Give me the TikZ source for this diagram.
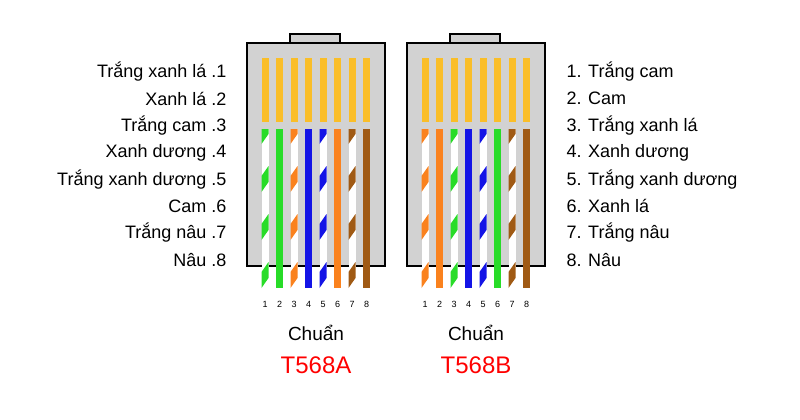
\documentclass[tikz,border=0pt]{standalone}
\usepackage{fontspec}
\setmainfont{Liberation Sans}
\begin{document}
\begin{tikzpicture}[x=1pt,y=-1pt,
  lab/.style={font=\fontsize{18}{19}\selectfont},
  num/.style={font=\fontsize{9}{10}\selectfont\rmfamily},
  box/.style={draw=black,line width=1.3pt,fill=gray!35}]
\definecolor{wg}{RGB}{40,220,40}
\definecolor{wo}{RGB}{250,130,30}
\definecolor{wb}{RGB}{20,20,230}
\definecolor{wn}{RGB}{160,90,20}
\definecolor{pg}{RGB}{250,190,40}
\useasboundingbox (0,0) rectangle (800,420);
\fill[white] (0,0) rectangle (800,420);
\newcommand\mywire[3]{%
  \ifnum#3=1
    \fill[white] (#1-3.5,129) rectangle (#1+3.5,288);
    \begin{scope}
      \clip (#1-3.5,129) rectangle (#1+3.5,288);
      \foreach \yy in {118,166,214,262}{
        \fill[#2] (#1-3.5,\yy+10) -- (#1+3.5,\yy) -- (#1+3.5,\yy+16) -- (#1-3.5,\yy+26) -- cycle;}
    \end{scope}
  \else
    \fill[#2] (#1-3.5,129) rectangle (#1+3.5,288);
  \fi}
\newcommand\myconn[2]{%
  \begin{scope}[xshift=#1]
    \draw[box] (290,43) -- (290,34) -- (340,34) -- (340,43);
    \fill[gray!35] (291,35) rectangle (339,44);
    \draw[box] (247,43) rectangle (385,266);
    \foreach \i in {0,...,7}{
      \fill[pg] ({265+\i*14.5-3.5},58) rectangle ({265+\i*14.5+3.5},122);
      \pgfmathtruncatemacro\n{\i+1}
      \node[num] (n\n#2) at ({265+\i*14.5},304) {\n};}
  \end{scope}}
\myconn{0}{a}
\myconn{160}{b}
\mywire{265}{wg}{1}\mywire{279.5}{wg}{0}\mywire{294}{wo}{1}\mywire{308.5}{wb}{0}
\mywire{323}{wb}{1}\mywire{337.5}{wo}{0}\mywire{352}{wn}{1}\mywire{366.5}{wn}{0}
\mywire{425}{wo}{1}\mywire{439.5}{wo}{0}\mywire{454}{wg}{1}\mywire{468.5}{wb}{0}
\mywire{483}{wb}{1}\mywire{497.5}{wg}{0}\mywire{512}{wn}{1}\mywire{526.5}{wn}{0}
\foreach \t [count=\i] in {Trắng xanh lá .1,Xanh lá .2,Trắng cam .3,Xanh dương .4,Trắng xanh dương .5,Cam .6,Trắng nâu .7,Nâu .8}
  \node[lab,anchor=east] (l\i) at (230,{72+(\i-1)*26.8}) {\t};
\foreach \t [count=\i] in {1. Trắng cam,2. Cam,3. Trắng xanh lá,4. Xanh dương,5. Trắng xanh dương,6. Xanh lá,7. Trắng nâu,8. Nâu}
  \node[lab,anchor=west] (r\i) at (563,{72+(\i-1)*26.8}) {\t};
\node[lab,font=\fontsize{19}{20}\selectfont] (ca) at (316,333) {Chuẩn};
\node[lab,font=\fontsize{19}{20}\selectfont] (cb) at (476,333) {Chuẩn};
\node[font=\fontsize{24}{25}\selectfont,text=red] (ta) at (316,365) {T568A};
\node[font=\fontsize{24}{25}\selectfont,text=red] (tb) at (476,365) {T568B};
\end{tikzpicture}
\end{document}
